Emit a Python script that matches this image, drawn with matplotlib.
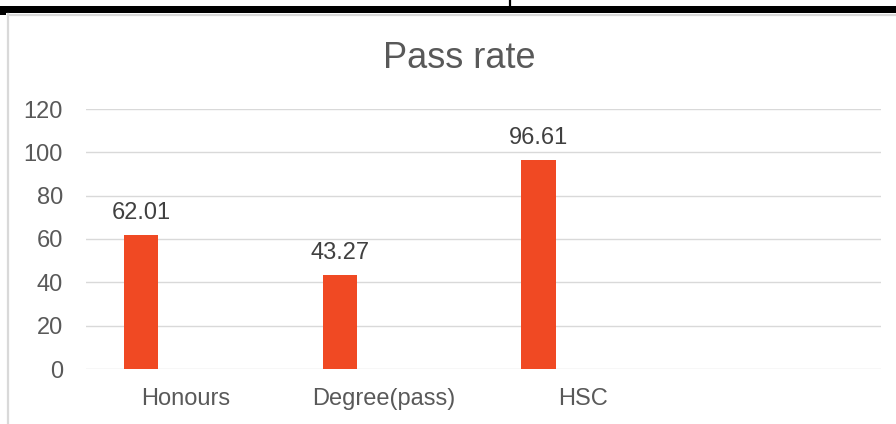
import matplotlib.pyplot as plt
from matplotlib.patches import Rectangle
from matplotlib.lines import Line2D

plt.rcParams['font.family'] = ['Liberation Sans', 'DejaVu Sans']

# data
categories = ['Honours', 'Degree(pass)', 'HSC', '']
pass_rate = [62.01, 43.27, 96.61]
y_ticks = [0, 20, 40, 60, 80, 100, 120]

W, H = 896, 424
fig = plt.figure(figsize=(W / 100, H / 100), dpi=100)
ax = fig.add_axes([86 / W, 1 - 369 / H, (881 - 86) / W, 260 / H])

x = list(range(len(pass_rate)))
offset = -0.223   # excel clustered-bar offset of first series
bars = ax.bar([i + offset for i in x], pass_rate, width=0.173, color='#F04923', zorder=3)
ax.bar_label(bars, labels=[f'{v:.2f}' for v in pass_rate], padding=8,
             fontsize=17, color='#404040')

ax.set_xlim(-0.5, len(categories) - 0.5)
ax.set_ylim(0, 120)
ax.set_yticks(y_ticks)
ax.set_xticks(range(len(categories)))
ax.set_xticklabels(categories)
ax.yaxis.grid(True, color='#D9D9D9', lw=1.0, zorder=0)
ax.set_axisbelow(True)
for s in ax.spines.values():
    s.set_visible(False)
ax.tick_params(axis='both', length=0, labelsize=17, labelcolor='#595959')
ax.tick_params(axis='y', pad=16.5)
ax.tick_params(axis='x', pad=13.5)

fig.text(459 / W, 1 - 68 / H, 'Pass rate', ha='center', va='baseline',
         fontsize=26, color='#595959')

# chart border (left/top) and black frame bits above it
fig.add_artist(Line2D([8 / W, 8 / W], [0, 1 - 14 / H], transform=fig.transFigure,
                      color='#D9D9D9', lw=1.6))
fig.add_artist(Line2D([8 / W, 1], [1 - 14.5 / H, 1 - 14.5 / H], transform=fig.transFigure,
                      color='#D9D9D9', lw=1.6))
fig.add_artist(Rectangle((0, 1 - 13 / H), 1, 7 / H, transform=fig.transFigure,
                         color='black', lw=0))
fig.add_artist(Rectangle((0, 1 - 15 / H), 6 / W, 9 / H, transform=fig.transFigure,
                         color='black', lw=0))
fig.add_artist(Line2D([510 / W, 510 / W], [1 - 6 / H, 1], transform=fig.transFigure,
                      color='black', lw=1.6))

fig.savefig('out.png', dpi=100)
